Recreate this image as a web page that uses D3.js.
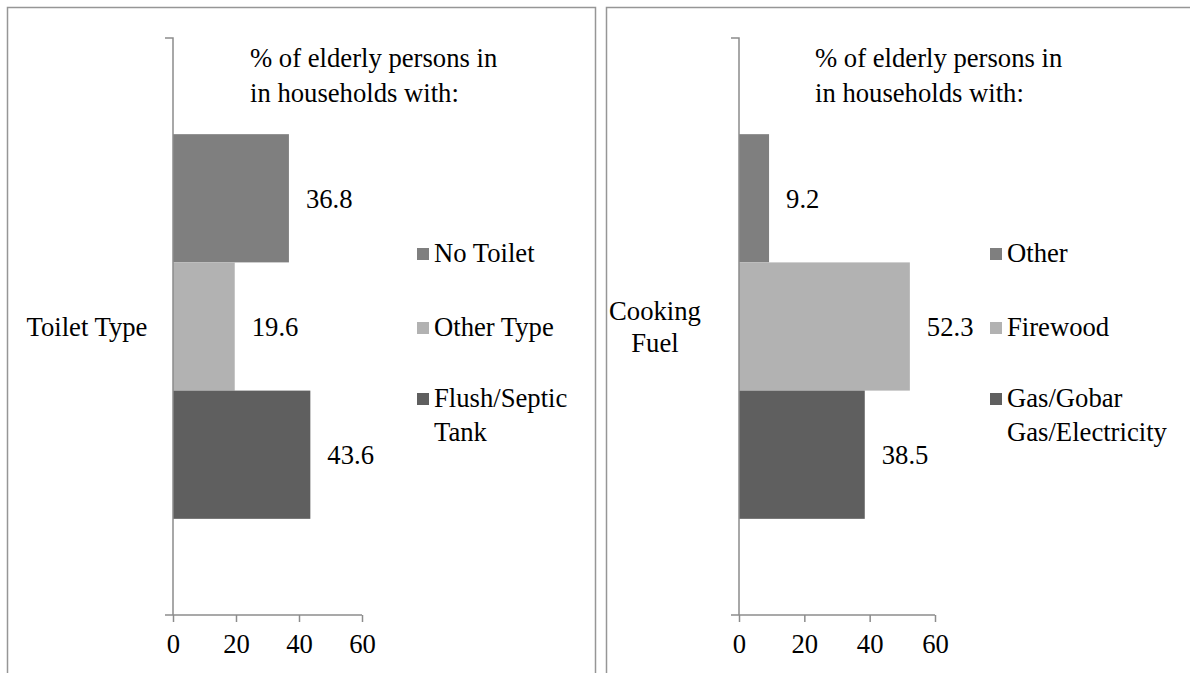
<!DOCTYPE html>
<html>
<head>
<meta charset="utf-8">
<script src="https://cdn.jsdelivr.net/npm/d3@7/dist/d3.min.js"></script>
<style>
  html, body { margin: 0; padding: 0; background: #fff; }
  svg { display: block; }
</style>
</head>
<body>
<svg id="chart" width="1190" height="673"></svg>
<script>
// Toilet type panel
const toiletCategory = "Toilet Type";
const toiletSeries = ["No Toilet", "Other Type", "Flush/Septic Tank"];
const toiletValues = [36.8, 19.6, 43.6];
const toiletLegend = [["No Toilet"], ["Other Type"], ["Flush/Septic", "Tank"]];

// Cooking fuel panel
const fuelCategory = "Cooking Fuel";
const fuelSeries = ["Other", "Firewood", "Gas/Gobar Gas/Electricity"];
const fuelValues = [9.2, 52.3, 38.5];
const fuelLegend = [["Other"], ["Firewood"], ["Gas/Gobar", "Gas/Electricity"]];

// Shared
const xTicks = [0, 20, 40, 60];
const barColors = ["#7f7f7f", "#b2b2b2", "#5f5f5f"];
const noteLines = ["% of elderly persons in", "in households with:"];

const SERIF = "Liberation Serif, Times New Roman, serif";
const FONT = 26.67;
const AXIS_COLOR = "#8c8c8c";

const svg = d3.select("#chart");

// panel frames
svg.append("rect").attr("x", 7.5).attr("y", 7.5).attr("width", 588).attr("height", 700)
  .attr("fill", "none").attr("stroke", "#969696").attr("stroke-width", 1.5);
svg.append("rect").attr("x", 606.5).attr("y", 7.5).attr("width", 620).attr("height", 700)
  .attr("fill", "none").attr("stroke", "#969696").attr("stroke-width", 1.5);

function serifText(sel) {
  return sel.attr("font-family", SERIF).attr("font-size", FONT).attr("fill", "#000");
}

function drawPanel(cfg) {
  const g = svg.append("g");
  const x = d3.scaleLinear().domain([0, 60]).range([cfg.x0, cfg.x1]);
  const yCat = d3.scaleBand().domain([cfg.category]).range([38, 615]);
  // three bars per category with a 150% gap split above and below
  const ySer = d3.scaleBand().domain(cfg.series)
    .range([yCat(cfg.category), yCat(cfg.category) + yCat.bandwidth()])
    .paddingInner(0).paddingOuter(0.75);

  // bars
  g.selectAll("rect.bar").data(cfg.series).join("rect")
    .attr("class", "bar")
    .attr("x", x(0))
    .attr("y", d => ySer(d))
    .attr("width", (d, i) => x(cfg.values[i]) - x(0))
    .attr("height", ySer.bandwidth())
    .attr("fill", (d, i) => barColors[i]);

  // value labels at the bar ends
  g.selectAll("text.val").data(cfg.series).join("text")
    .attr("class", "val")
    .attr("x", (d, i) => x(cfg.values[i]) + 17)
    .attr("y", d => ySer(d) + ySer.bandwidth() / 2)
    .attr("dy", "0.35em")
    .call(serifText)
    .text((d, i) => cfg.values[i].toFixed(1));

  // value axis
  const xAxis = d3.axisBottom(x).tickValues(xTicks).tickSize(7).tickPadding(12).tickSizeOuter(0);
  const ax = g.append("g").attr("transform", `translate(0,${yCat.range()[1]})`).call(xAxis)
    .attr("font-family", SERIF).attr("font-size", FONT);
  ax.select(".domain").attr("stroke", AXIS_COLOR).attr("stroke-width", 1.5)
    .attr("d", `M${x(0) - 8},0H${x(60)}`);
  ax.selectAll(".tick line").attr("stroke", AXIS_COLOR).attr("stroke-width", 1.5);
  ax.selectAll(".tick text").call(serifText);

  // category axis with boundary ticks
  const [yTop, yBot] = yCat.range();
  g.append("path")
    .attr("d", `M${x(0) - 8},${yTop}H${x(0)}V${yBot}`)
    .attr("fill", "none").attr("stroke", AXIS_COLOR).attr("stroke-width", 1.5);

  // category label
  const catY = yCat(cfg.category) + yCat.bandwidth() / 2;
  const cat = g.append("text").attr("text-anchor", "middle").call(serifText);
  cfg.catLines.forEach((line, i) => {
    cat.append("tspan").attr("x", cfg.catX)
      .attr("y", catY + 9 + (i - (cfg.catLines.length - 1) / 2) * 32)
      .text(line);
  });

  // note
  const note = g.append("text").call(serifText);
  noteLines.forEach((line, i) => {
    note.append("tspan").attr("x", cfg.noteX).attr("y", 67 + i * 35).text(line);
  });

  // legend
  const legendY = [262, 336, 407];
  cfg.legend.forEach((lines, i) => {
    const lg = g.append("g");
    lg.append("rect").attr("x", cfg.legX).attr("y", legendY[i] - 14)
      .attr("width", 12).attr("height", 12).attr("fill", barColors[i]);
    const t = lg.append("text").call(serifText);
    lines.forEach((line, j) => {
      t.append("tspan").attr("x", cfg.legX + 17).attr("y", legendY[i] + j * 34).text(line);
    });
  });
}

drawPanel({
  category: toiletCategory, series: toiletSeries, values: toiletValues, legend: toiletLegend,
  catLines: ["Toilet Type"], catX: 87, x0: 173, x1: 362, noteX: 250, legX: 417
});
drawPanel({
  category: fuelCategory, series: fuelSeries, values: fuelValues, legend: fuelLegend,
  catLines: ["Cooking", "Fuel"], catX: 655, x0: 739, x1: 935, noteX: 815, legX: 990
});
</script>
</body>
</html>
